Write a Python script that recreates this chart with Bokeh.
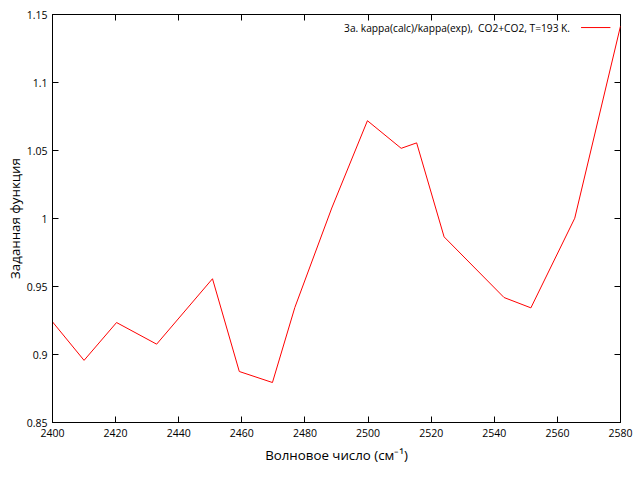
from bokeh.plotting import figure
from bokeh.models import LinearAxis, FixedTicker, CustomJSTickFormatter, Label, Arrow, Range1d
from bokeh.embed import file_html
from bokeh.resources import INLINE

# data
wavenumber = [2400.0, 2410.0, 2420.3, 2433.0, 2450.7, 2459.2, 2469.7, 2476.8,
              2488.5, 2499.8, 2510.5, 2515.4, 2524.1, 2543.1, 2551.6, 2565.5, 2580.0]
ratio = [0.9240, 0.8957, 0.9235, 0.9076, 0.9557, 0.8875, 0.8794, 0.9346,
         1.0077, 1.0719, 1.0516, 1.0556, 0.9865, 0.9419, 0.9343, 1.0002, 1.1415]

x_ticks = [2400, 2420, 2440, 2460, 2480, 2500, 2520, 2540, 2560, 2580]
y_ticks = [0.85, 0.9, 0.95, 1.0, 1.05, 1.1, 1.15]

series_label = "3a. kappa(calc)/kappa(exp),\u00a0 CO2+CO2, T=193 K."
x_title = "Волновое число (см\u207B\u00B9)"
y_title = "Заданная функция"

FONT = "Open Sans"
TICK_SIZE = "10.5px"
KEY_SIZE = "10.2px"
TITLE_SIZE = "13.3px"
RED = "#ff0000"

p = figure(width=640, height=480, output_backend="svg", toolbar_location=None,
           x_range=Range1d(2400, 2580), y_range=Range1d(0.85, 1.15),
           min_border_left=52, min_border_right=20, min_border_top=14, min_border_bottom=58)
p.background_fill_color = "white"
p.border_fill_color = "white"
p.grid.visible = False
p.outline_line_color = "black"
p.outline_line_width = 1

p.line(wavenumber, ratio, line_color=RED, line_width=1)

fmt = CustomJSTickFormatter(code="""
    var s = tick.toFixed(2);
    if (s.indexOf('.') >= 0) { s = s.replace(/0+$/, '').replace(/\\.$/, ''); }
    return s;
""")

for ax in p.xaxis:
    ax.ticker = FixedTicker(ticks=x_ticks)
    ax.axis_label = x_title
    ax.major_label_standoff = 6
    ax.axis_label_standoff = 6
for ax in p.yaxis:
    ax.ticker = FixedTicker(ticks=y_ticks)
    ax.formatter = fmt
    ax.axis_label = y_title
    ax.major_label_standoff = 5
    ax.axis_label_standoff = 0

for ax in list(p.xaxis) + list(p.yaxis):
    ax.major_tick_in = 6
    ax.major_tick_out = 0
    ax.minor_tick_in = 0
    ax.minor_tick_out = 0
    ax.axis_line_color = "black"
    ax.major_tick_line_color = "black"
    ax.major_label_text_font = FONT
    ax.major_label_text_font_size = TICK_SIZE
    ax.major_label_text_color = "black"
    ax.axis_label_text_font = FONT
    ax.axis_label_text_font_size = TITLE_SIZE
    ax.axis_label_text_font_style = "normal"
    ax.axis_label_text_color = "black"

# mirrored ticks on top and right (no labels)
top = LinearAxis(ticker=FixedTicker(ticks=x_ticks), major_label_text_font_size="1px",
                 major_label_text_color=None, major_label_standoff=0,
                 major_tick_in=6, major_tick_out=0, minor_tick_in=0, minor_tick_out=0,
                 axis_line_color=None)
right = LinearAxis(ticker=FixedTicker(ticks=y_ticks), major_label_text_font_size="1px",
                   major_label_text_color=None, major_label_standoff=0,
                   major_tick_in=6, major_tick_out=0, minor_tick_in=0, minor_tick_out=0,
                   axis_line_color=None)
p.add_layout(top, "above")
p.add_layout(right, "right")

# gnuplot-style key: text, then line sample, top right
key_y = 1.1404
p.add_layout(Label(x=2564.0, y=key_y, text=series_label, text_align="right",
                   text_baseline="middle", text_font=FONT, text_font_size=KEY_SIZE,
                   text_color="black"))
p.add_layout(Arrow(x_start=2567.5, y_start=key_y, x_end=2576.8, y_end=key_y,
                   end=None, line_color=RED, line_width=1))

open("out.html", "w").write(file_html(p, INLINE))
